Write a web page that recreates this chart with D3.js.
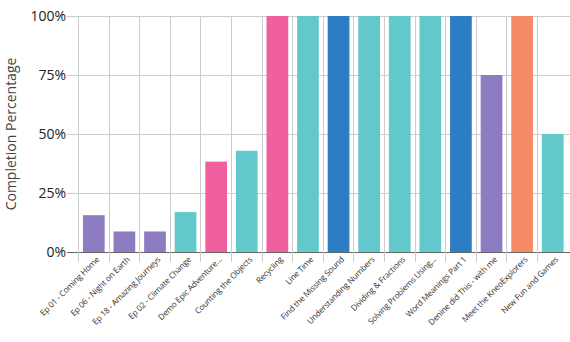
<!DOCTYPE html>
<html><head><meta charset="utf-8">
<script src="https://cdn.jsdelivr.net/npm/d3@7"></script>
<style>body{margin:0;background:#fff;} svg{display:block;font-family:"Open Sans",Lato,sans-serif;}</style>
</head><body><div id="chart"></div>
<script>
const categories = ["Ep 01 - Coming Home","Ep 06 - Night on Earth","Ep 18 - Amazing Journeys","Ep 02 - Climate Change","Demo Epic Adventure...","Counting the Objects","Recycling","Line Time","Find the Missing Sound","Understanding Numbers","Dividing & Fractions","Solving Problems Using...","Word Meanings Part 1","Denine did This - with me","Meet the KneoExplorers","New Fun and Games"];
const values = [15.6, 8.7, 8.7, 16.9, 38.3, 42.9, 100, 100, 100, 100, 100, 100, 100, 75, 100, 50];
const colors = ["#8e7cc3","#8e7cc3","#8e7cc3","#62c8cc","#f0609e","#62c8cc","#f0609e","#62c8cc","#2d7dc4","#62c8cc","#62c8cc","#62c8cc","#2d7dc4","#8e7cc3","#f58a66","#62c8cc"];
const yTicks = [0, 25, 50, 75, 100];
const yTickLabels = ["0%","25%","50%","75%","100%"];

const W = 570, H = 342;
const m = {left: 78.5, right: 2, top: 16, bottom: 90};
const svg = d3.select("#chart").append("svg").attr("width", W).attr("height", H);
const x = d3.scaleBand().domain(categories).range([m.left, W - m.right]).paddingInner(0.29).paddingOuter(0.145);
const y = d3.scaleLinear().domain([0, 100]).range([H - m.bottom, m.top]);

// horizontal gridlines
svg.append("g").selectAll("line").data(yTicks).join("line")
  .attr("x1", 67).attr("x2", W).attr("y1", d => y(d)).attr("y2", d => y(d))
  .attr("stroke", d => d === 0 ? "#666" : "#ccc").attr("stroke-width", 1).attr("shape-rendering","crispEdges");

// vertical gridlines at band boundaries
const edges = categories.map(c => x(c) - x.step() * x.paddingOuter());
svg.append("g").selectAll("line").data(edges).join("line")
  .attr("x1", d => d).attr("x2", d => d).attr("y1", y(100)).attr("y2", y(0) + 10)
  .attr("stroke", "#ccc").attr("stroke-width", 1).attr("shape-rendering","crispEdges");

// bars
svg.append("g").selectAll("rect").data(values).join("rect")
  .attr("x", (d, i) => x(categories[i]))
  .attr("width", x.bandwidth())
  .attr("y", d => y(d))
  .attr("height", d => y(0) - y(d))
  .attr("fill", (d, i) => colors[i]);

// y tick labels
svg.append("g").selectAll("text").data(yTicks).join("text")
  .attr("x", 66).attr("y", d => y(d)).attr("dy", "0.36em")
  .attr("text-anchor", "end").attr("font-size", 14).attr("fill", "#222")
  .text((d, i) => yTickLabels[i]);

// x labels
svg.append("g").selectAll("text").data(categories).join("text")
  .attr("transform", d => `translate(${x(d) + x.bandwidth()/2 + 4},${y(0) + 6}) rotate(-45)`)
  .attr("text-anchor", "end").attr("dy", "0.35em").attr("font-size", 8.2)
  .attr("letter-spacing", -0.15).attr("fill", "#333")
  .text(d => d);

// y axis title
svg.append("text")
  .attr("transform", `translate(16,${(y(0)+y(100))/2}) rotate(-90)`)
  .attr("text-anchor", "middle").attr("font-size", 14).attr("fill", "#444")
  .text("Completion Percentage");
</script></body></html>
